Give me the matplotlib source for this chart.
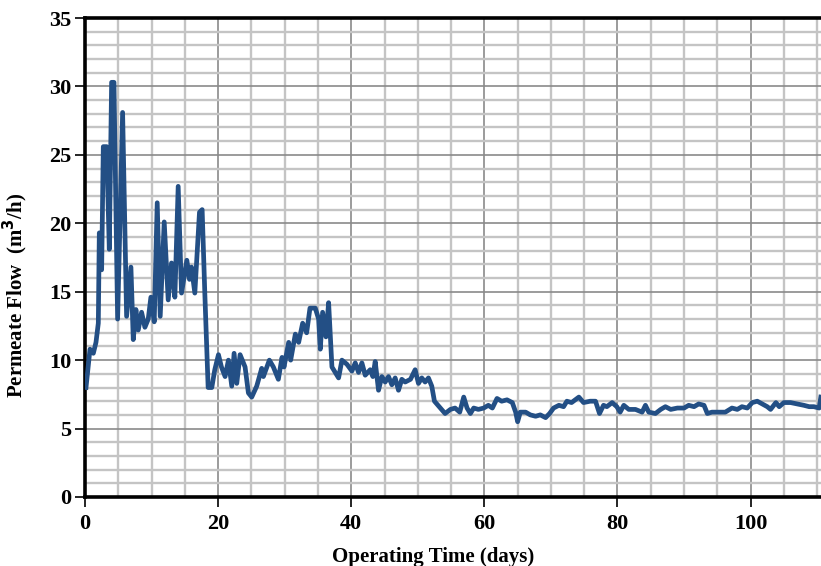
import matplotlib

matplotlib.use("Agg")
import matplotlib.pyplot as plt
from matplotlib.ticker import MultipleLocator

# operating time (days) and permeate flow (m3/h)
days = [
    0.15, 0.75, 1.25, 1.65, 2.0, 2.15, 2.5, 2.75, 3.25, 3.65, 4.0, 4.35, 4.9,
    5.65, 6.25, 6.9, 7.25, 7.65, 8.0, 8.5, 9.0, 9.5, 9.9, 10.4, 10.85, 11.3,
    11.9, 12.5, 13.0, 13.5, 14.0, 14.5, 15.3, 15.7, 16.0, 16.5, 17.2, 17.6,
    18.0, 18.5, 19.05, 19.5, 20.05, 20.5, 21.05, 21.55, 22.05, 22.4, 22.8,
    23.3, 24.05, 24.55, 25.05, 25.8, 26.55, 26.8, 27.7, 28.3, 29.05, 29.6,
    29.9, 30.6, 30.9, 31.6, 32.1, 32.7, 33.3, 33.8, 34.6, 35.1, 35.35, 35.7,
    36.2, 36.6, 37.1, 37.6, 38.1, 38.6, 39.35, 40.1, 40.6, 41.1, 41.6, 42.1,
    42.85, 43.25, 43.6, 44.1, 44.6, 45.1, 45.6, 46.1, 46.6, 47.1, 47.6, 48.1,
    48.9, 49.6, 50.1, 50.6, 51.1, 51.6, 52.1, 52.5, 53.4, 54.1, 54.9, 55.6,
    56.3, 56.9, 57.4, 57.9, 58.4, 59.1, 59.9, 60.6, 61.2, 61.9, 62.6, 63.4,
    64.2, 64.7, 65.0, 65.4, 66.2, 66.9, 67.7, 68.4, 69.2, 69.8, 70.4, 71.2,
    71.9, 72.4, 73.1, 74.2, 74.9, 75.9, 76.7, 77.3, 77.9, 78.4, 79.2, 79.9,
    80.4, 80.95, 81.7, 82.7, 83.7, 84.2, 84.7, 85.7, 86.5, 87.2, 88.0, 89.0,
    90.0, 90.7, 91.5, 92.2, 93.0, 93.5, 94.2, 95.2, 96.2, 97.2, 98.0, 98.7,
    99.5, 100.25, 101.0, 101.75, 102.5, 103.0, 103.8, 104.3, 105.0, 106.0,
    107.0, 108.0, 108.8, 109.5, 110.3, 110.55,
]
flow = [
    8.0, 10.8, 10.5, 11.3, 12.7, 19.3, 16.6, 25.6, 25.6, 18.1, 30.3, 30.3, 13.0,
    28.1, 13.2, 16.8, 11.5, 13.7, 12.2, 13.5, 12.4, 13.0, 14.6, 12.8, 21.5, 13.2,
    20.1, 14.4, 17.1, 14.6, 22.7, 14.9, 17.3, 15.9, 16.8, 14.9, 20.8, 21.0,
    14.9, 8.0, 8.0, 9.3, 10.4, 9.5, 8.8, 10.0, 8.1, 10.5, 8.3,
    10.4, 9.5, 7.6, 7.3, 8.1, 9.4, 8.8, 10.0, 9.5, 8.6, 10.2,
    9.5, 11.3, 10.0, 11.9, 11.3, 12.7, 12.0, 13.8, 13.8, 13.0, 10.8, 13.5,
    11.7, 14.2, 9.5, 9.1, 8.7, 10.0, 9.7, 9.2, 9.8, 9.1, 9.8, 8.9,
    9.3, 8.8, 9.9, 7.8, 8.8, 8.4, 8.8, 8.2, 8.7, 7.8, 8.6, 8.4,
    8.6, 9.3, 8.3, 8.7, 8.4, 8.7, 8.1, 7.0, 6.5, 6.1, 6.4, 6.5,
    6.2, 7.3, 6.5, 6.1, 6.5, 6.4, 6.5, 6.7, 6.5, 7.2, 7.0, 7.1,
    6.9, 6.2, 5.5, 6.2, 6.2, 6.0, 5.9, 6.0, 5.8, 6.1, 6.5, 6.7,
    6.6, 7.0, 6.9, 7.3, 6.9, 7.0, 7.0, 6.1, 6.7, 6.6, 6.9, 6.6,
    6.2, 6.7, 6.4, 6.4, 6.2, 6.7, 6.2, 6.1, 6.4, 6.6, 6.4, 6.5,
    6.5, 6.7, 6.6, 6.8, 6.7, 6.1, 6.2, 6.2, 6.2, 6.5, 6.4, 6.6,
    6.5, 6.9, 7.0, 6.8, 6.6, 6.4, 6.9, 6.6, 6.9, 6.9,
    6.8, 6.7, 6.6, 6.6, 6.5, 7.3,
]

serif = ["Liberation Serif", "DejaVu Serif"]

fig = plt.figure(figsize=(8.21, 5.66), dpi=100)
ax = fig.add_axes([85 / 821, 69 / 566, 1 - 85 / 821 + 0.001, 479 / 566])

ax.set_xlim(0, 110.7)
ax.set_ylim(0, 35)

ax.xaxis.set_major_locator(MultipleLocator(20))
ax.xaxis.set_minor_locator(MultipleLocator(5))
ax.yaxis.set_major_locator(MultipleLocator(5))
ax.yaxis.set_minor_locator(MultipleLocator(1))

ax.grid(which="minor", color="#c4c4c4", linewidth=1.7, zorder=0)
ax.grid(which="major", color="#8a8a8a", linewidth=1.2, zorder=0)
ax.set_axisbelow(True)

ax.plot(days, flow, color="#234f85", linewidth=3.4, solid_joinstyle="round",
        zorder=3)

for side in ("left", "bottom", "top"):
    ax.spines[side].set_linewidth(2.6)
    ax.spines[side].set_color("black")
ax.spines["right"].set_visible(False)

ax.tick_params(which="major", direction="out", length=7, width=1.2,
               labelsize=16, pad=3)
ax.tick_params(axis="x", which="major", pad=5)
ax.tick_params(which="minor", length=0)
for lab in ax.get_xticklabels() + ax.get_yticklabels():
    lab.set_family(serif)
    lab.set_fontweight("bold")

ax.set_xlabel("Operating Time (days)", family=serif, fontweight="bold",
              fontsize=15)
ax.xaxis.set_label_coords(0.473, -0.104)
ax.set_ylabel("Permeate Flow  (m$^{\\mathbf{3}}$/h)", family=serif,
              fontweight="bold", fontsize=15)
ax.yaxis.set_label_coords(-0.074, 0.42)

fig.savefig("out.png", dpi=100)
